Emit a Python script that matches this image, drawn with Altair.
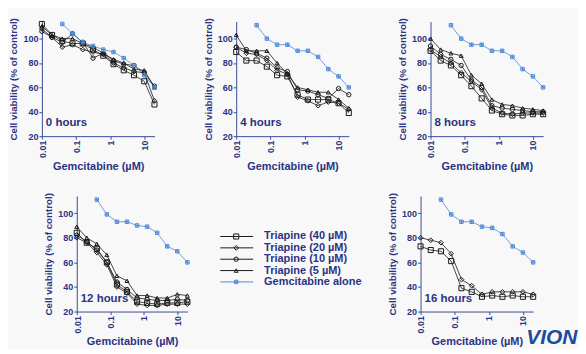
import altair as alt
import pandas as pd

# ---------------- data ----------------
conc = [0.0098, 0.0195, 0.039, 0.078, 0.156, 0.3125, 0.625, 1.25, 2.5, 5, 10, 20]
gem_conc = [0.039, 0.078, 0.156, 0.3125, 0.625, 1.25, 2.5, 5, 10, 20]

series_names = ["Triapine (40 µM)", "Triapine (20 µM)", "Triapine (10 µM)",
                "Triapine (5 µM)", "Gemcitabine alone"]

# 0 hours
h0_t40 = [112, 103, 98, 96, 96, 91, 86, 79, 74, 70, 65, 46]
h0_t20 = [108, 101, 93, 95, 91, 89, 87, 80, 76, 73, 72, 49]
h0_t10 = [106, 101, 97, 104, 97, 84, 88, 82, 79, 78, 72, 61]
h0_t5 = [110, 103, 100, 100, 96, 93, 88, 83, 80, 75, 74, 60]
h0_gem = [112, 104, 97, 94, 91, 89, 84, 78, 70, 60]

# 4 hours
h4_t40 = [89, 82, 82, 77, 70, 69, 54, 50, 50, 50, 47, 39]
h4_t20 = [93, 88, 87, 82, 74, 71, 52, 49, 45, 48, 47, 42]
h4_t10 = [93, 91, 88, 84, 76, 73, 58, 57, 54, 51, 59, 54]
h4_t5 = [103, 90, 90, 90, 80, 71, 60, 58, 56, 56, 50, 43]
h4_gem = [111, 100, 95, 95, 90, 90, 85, 75, 69, 60]

# 8 hours
h8_t40 = [90, 82, 78, 70, 61, 51, 41, 38, 37, 37, 38, 38]
h8_t20 = [91, 85, 80, 72, 65, 58, 43, 39, 38, 39, 39, 39]
h8_t10 = [94, 87, 83, 78, 66, 60, 45, 43, 42, 41, 40, 40]
h8_t5 = [100, 91, 88, 86, 70, 63, 50, 46, 45, 43, 42, 41]
h8_gem = [111, 100, 95, 95, 90, 90, 85, 75, 69, 60]

# 12 hours
h12_t40 = [84, 76, 71, 60, 42, 36, 28, 27, 26, 27, 27, 28]
h12_t20 = [80, 76, 68, 58, 40, 35, 26, 25, 25, 26, 26, 26]
h12_t10 = [82, 77, 70, 60, 44, 38, 31, 30, 29, 29, 30, 29]
h12_t5 = [89, 80, 75, 66, 49, 45, 33, 33, 31, 31, 34, 33]
h12_gem = [111, 99, 93, 93, 90, 89, 84, 73, 69, 60]

# 16 hours
h16_t40 = [73, 70, 69, 61, 39, 36, 32, 33, 32, 33, 32, 32]
h16_t20 = [80, 78, 76, 67, 46, 41, 34, 36, 36, 36, 36, 34]
h16_gem = [111, 99, 93, 93, 89, 88, 83, 73, 68, 60]

x_ticks = [0.01, 0.1, 1, 10]
y_ticks = [20, 40, 60, 80, 100]

# ---------------- style ----------------
NAVY = "#2b3384"
AXIS = "#3d4c9c"
BLACK = "#1a1a1a"
BLUE = "#5289d6"
FONT = "Liberation Sans"
BOXPLUS = "M-1,-1L1,-1L1,1L-1,1Z M0,-1L0,1 M-1,0L1,0"

color_scale = alt.Scale(domain=series_names, range=[BLACK, BLACK, BLACK, BLACK, BLUE])
shape_scale = alt.Scale(domain=series_names,
                        range=["square", "diamond", "circle", "triangle-up", BOXPLUS])
size_scale = alt.Scale(domain=series_names, range=[26, 12, 26, 18, 28])


def make_df(series_lists, gem_vals):
    rows = []
    for name, vals in series_lists:
        for c, v in zip(conc, vals):
            rows.append({"conc": c, "v": v, "series": name})
    for c, v in zip(gem_conc, gem_vals):
        rows.append({"conc": c, "v": v, "series": "Gemcitabine alone"})
    return pd.DataFrame(rows)


def panel(label, series_lists, gem_vals, w, h):
    df = make_df(series_lists, gem_vals)
    x = alt.X("conc:Q",
              scale=alt.Scale(type="log", domain=[0.0098, 20]),
              axis=alt.Axis(values=x_ticks, format="~g", labelAngle=270,
                            labelAlign="right", labelBaseline="middle",
                            title="Gemcitabine (µM)", titlePadding=3))
    y = alt.Y("v:Q", scale=alt.Scale(domain=[20, 114]),
              axis=alt.Axis(values=y_ticks, title="Cell viability (% of control)",
                            titlePadding=4))
    base = alt.Chart(df)
    lines = base.mark_line(strokeWidth=0.8).encode(
        x=x, y=y,
        color=alt.Color("series:N", scale=color_scale, legend=None),
        detail="series:N")
    pts = base.mark_point(filled=False, strokeWidth=1, opacity=1).encode(
        x=x, y=y,
        color=alt.Color("series:N", scale=color_scale, legend=None),
        shape=alt.Shape("series:N", scale=shape_scale, legend=None),
        size=alt.Size("series:N", scale=size_scale, legend=None))
    txt = alt.Chart(pd.DataFrame({"t": [label]})).mark_text(
        align="left", baseline="middle", font=FONT, fontSize=11.5,
        fontWeight="bold", color=NAVY).encode(
        x=alt.value(4), y=alt.value(h - 13), text="t:N")
    return alt.layer(lines, pts, txt).properties(width=w, height=h)


p0 = panel("0 hours", [("Triapine (40 µM)", h0_t40), ("Triapine (20 µM)", h0_t20),
                       ("Triapine (10 µM)", h0_t10), ("Triapine (5 µM)", h0_t5)], h0_gem, 113, 115)
p4 = panel("4 hours", [("Triapine (40 µM)", h4_t40), ("Triapine (20 µM)", h4_t20),
                       ("Triapine (10 µM)", h4_t10), ("Triapine (5 µM)", h4_t5)], h4_gem, 113, 115)
p8 = panel("8 hours", [("Triapine (40 µM)", h8_t40), ("Triapine (20 µM)", h8_t20),
                       ("Triapine (10 µM)", h8_t10), ("Triapine (5 µM)", h8_t5)], h8_gem, 113, 115)
p12 = panel("12 hours", [("Triapine (40 µM)", h12_t40), ("Triapine (20 µM)", h12_t20),
                         ("Triapine (10 µM)", h12_t10), ("Triapine (5 µM)", h12_t5)], h12_gem, 111, 116)
p16 = panel("16 hours", [("Triapine (40 µM)", h16_t40), ("Triapine (20 µM)", h16_t20)],
            h16_gem, 113, 116)

vion = alt.Chart(pd.DataFrame({"t": ["VION"]})).mark_text(
    align="left", baseline="bottom", font=FONT, fontSize=21, fontWeight="bold",
    fontStyle="italic", color="#1e4a9e").encode(
    x=alt.value(106), y=alt.value(153), text="t:N")
p16 = alt.layer(p16, vion)

# legend panel
leg_df = pd.DataFrame({"series": series_names})
ly = alt.Y("series:N", sort=series_names,
           scale=alt.Scale(type="point", domain=series_names, range=[35, 92]), axis=None)
lcolor = alt.Color("series:N", scale=color_scale, legend=None)
leg_lines = alt.Chart(leg_df).mark_rule(strokeWidth=1).encode(
    x=alt.value(23), x2=alt.value(56), y=ly, color=lcolor)
leg_pts = alt.Chart(leg_df).mark_point(filled=False, strokeWidth=1, opacity=1).encode(
    x=alt.value(39), y=ly, color=lcolor,
    shape=alt.Shape("series:N", scale=shape_scale, legend=None),
    size=alt.Size("series:N", scale=size_scale, legend=None))
leg_txt = alt.Chart(leg_df).mark_text(
    align="left", baseline="middle", font=FONT, fontSize=11, fontWeight="bold",
    color=NAVY).encode(x=alt.value(67), y=ly, text="series:N")
legend = alt.layer(leg_lines, leg_pts, leg_txt).properties(width=214, height=116)

spacer = alt.Chart(pd.DataFrame({"a": [0]})).mark_point(opacity=0).encode(
    x=alt.value(0), y=alt.value(0)).properties(width=25, height=10)

row1 = alt.hconcat(p0, p4, p8, spacing=82, bounds="flush")
row2 = alt.hconcat(spacer, p12, legend, p16, spacing=10, bounds="flush")

chart = alt.vconcat(row1, row2, spacing=20).properties(
    padding={"left": 0, "top": 8, "right": 0, "bottom": 0},
    background="#f8f8f8"
).configure_view(strokeWidth=0).configure_axis(
    grid=False, domainColor=AXIS, tickColor=AXIS, tickSize=3, domainWidth=1,
    labelColor=NAVY, labelFont=FONT, labelFontSize=9, labelFontWeight="bold",
    labelPadding=1, titleColor=NAVY, titleFont=FONT, titleFontSize=11,
    titleFontWeight="bold"
).configure_axisY(titleFontSize=9.8)

chart.save("out.html", embed_options={"renderer": "svg", "actions": False})
